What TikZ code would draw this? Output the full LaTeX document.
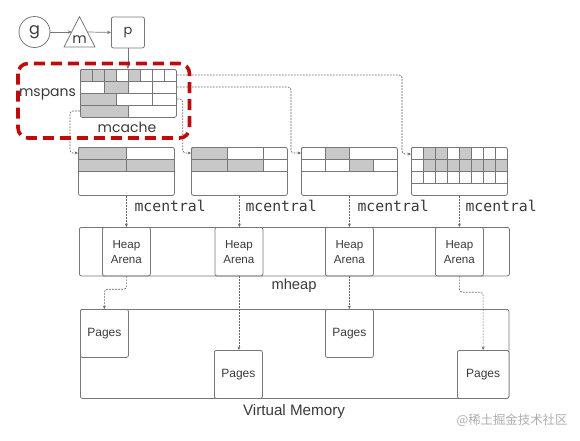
\documentclass[tikz,border=0pt]{standalone}
\usepackage{fontspec}
\setmainfont{Liberation Sans}
\newfontfamily\hand{Poppins}
\newfontfamily\mono{DejaVu Sans Mono}
\newfontfamily\cjk{Noto Sans CJK SC}
\usetikzlibrary{calc,arrows.meta}
\definecolor{bc}{HTML}{777777}
\definecolor{sh}{HTML}{C8C8C8}
\definecolor{tc}{HTML}{3A3A3A}
\definecolor{cn}{HTML}{666666}
\definecolor{rd}{RGB}{190,12,12}
\newcommand\mycell[5]{\filldraw[fill=#5,draw=bc,line width=0.7pt] (#1,#2) rectangle (#3,#4);}
\begin{document}
\begin{tikzpicture}[x=1pt,y=-1pt,
  box/.style={draw=bc, line width=0.8pt, rounded corners=2pt, inner sep=0pt, anchor=north west},
  conn/.style={draw=cn, line width=0.65pt, dash pattern=on 1.8pt off 1.2pt, rounded corners=3pt, -{Stealth[length=3.4pt,width=3pt]}},
  arr/.style={draw=bc, line width=0.7pt, -{Stealth[length=4pt,width=3.4pt]}},
  hw/.style={font=\hand\fontsize{14}{14}\selectfont, text=tc},
  mlab/.style={font=\mono\fontsize{14.8}{14.8}\selectfont, text=tc, anchor=west},
  sans/.style={font=\fontsize{12}{15}\selectfont, text=tc, align=center}
]
\useasboundingbox (0,0) rectangle (580,440);

% ---- top: g, m, p
\node[circle, draw=bc, line width=0.8pt, minimum size=31pt, inner sep=0pt, font=\hand\fontsize{16}{16}\selectfont, text=tc] (g) at (34.5,32) {g};
\draw[bc, line width=0.8pt, line join=round] (64,47) -- (79.5,16.5) -- (95,47) -- cycle;
\node[hw, font=\hand\fontsize{14}{14}\selectfont] (m) at (79.5,39.5) {m};
\coordinate (mw) at (71.8,32);
\coordinate (me) at (87.2,32);
\node[box, minimum width=33pt, minimum height=31pt, hw, font=\hand\fontsize{13}{13}\selectfont] (p) at (111,16.5) {p};
\draw[arr] (g.east) -- (mw);
\draw[arr] (me) -- (p.west);

% ---- mcache grid
\begin{scope}
\clip[rounded corners=2pt] (80,69) rectangle (176,117);
\foreach \i/\f in {0/sh,1/sh,2/sh,3/white,4/sh,5/white,6/white,7/white}
  {\mycell{80+12*\i}{69}{92+12*\i}{81}{\f}}
\foreach \i/\f in {0/white,1/sh,2/white,3/white}
  {\mycell{80+24*\i}{81}{104+24*\i}{93}{\f}}
\mycell{80}{93}{116}{105}{sh}
\mycell{116}{93}{152}{105}{white}
\mycell{152}{93}{176}{105}{white}
\mycell{80}{105}{128}{117}{sh}
\mycell{128}{105}{176}{117}{white}
\end{scope}
\node[box, minimum width=96pt, minimum height=48pt] (mc) at (80,69) {};
\draw[arr] (p.south) -- (p.south |- mc.north);
\node[hw] (msp) at (47.5,94.5) {mspans};
\node[hw] (mcl) at (127,127) {mcache};

% ---- mcentral boxes
\begin{scope}
\clip[rounded corners=2pt] (78,147) rectangle (174,195);
\mycell{78}{147}{126}{159}{sh}
\mycell{126}{147}{174}{159}{white}
\mycell{78}{159}{126}{171}{sh}
\mycell{126}{159}{174}{171}{sh}
\end{scope}
\node[box, minimum width=96pt, minimum height=48pt] (c1) at (78,147) {};

\begin{scope}
\clip[rounded corners=2pt] (191,147) rectangle (287,195);
\mycell{191}{147}{227}{159}{sh}
\mycell{227}{147}{263}{159}{white}
\mycell{263}{147}{287}{159}{white}
\mycell{191}{159}{227}{171}{sh}
\mycell{227}{159}{263}{171}{sh}
\mycell{263}{159}{287}{171}{white}
\end{scope}
\node[box, minimum width=96pt, minimum height=48pt] (c2) at (191,147) {};

\begin{scope}
\clip[rounded corners=2pt] (301,147) rectangle (397,195);
\mycell{301}{147}{325}{159}{white}
\mycell{325}{147}{349}{159}{sh}
\mycell{349}{147}{397}{159}{white}
\foreach \i/\f in {0/white,1/white,2/sh,3/white}
  {\mycell{301+24*\i}{159}{325+24*\i}{171}{\f}}
\end{scope}
\node[box, minimum width=96pt, minimum height=48pt] (c3) at (301,147) {};

\begin{scope}
\clip[rounded corners=2pt] (411,147) rectangle (507,195);
\foreach \i/\f in {0/white,1/sh,2/sh,3/white,4/sh,5/white,6/white,7/white}
  {\mycell{411+12*\i}{147}{423+12*\i}{159}{\f}}
\foreach \i/\f in {0/white,1/sh,2/sh,3/sh,4/sh,5/sh,6/sh,7/sh}
  {\mycell{411+12*\i}{159}{423+12*\i}{171}{\f}}
\foreach \i in {0,...,7}
  {\mycell{411+12*\i}{171}{423+12*\i}{183}{white}}
\end{scope}
\node[box, minimum width=96pt, minimum height=48pt] (c4) at (411,147) {};

% ---- connectors mcache -> mcentral
\draw[conn] ($(mc.north east)+(0,6)$) -| ($(c4.north west)+(-9,7)$) -- ($(c4.north west)+(0,7)$);
\draw[conn] ($(mc.north east)+(0,18)$) -| ($(c3.north west)+(-10,6)$) -- ($(c3.north west)+(0,6)$);
\draw[conn] ($(mc.north east)+(0,30)$) -- ++(6,0) |- ($(c2.north west)+(0,6)$);
\draw[conn] ($(mc.north west)+(0,42)$) -- ++(-10,0) |- ($(c1.north west)+(0,6)$);

% ---- red dashed mcache frame
\draw[rd, line width=3.6pt, dash pattern=on 11pt off 6pt, rounded corners=10pt] (18,63.5) rectangle (189.5,138);

% ---- mcentral labels
\node[mlab] (l1) at (131,206) {mcentral};
\node[mlab] (l2) at (242,206) {mcentral};
\node[mlab] (l3) at (354,206) {mcentral};
\node[mlab] (l4) at (462,206) {mcentral};

% ---- mheap
\node[box, minimum width=430pt, minimum height=48.5pt] (mh) at (79,227) {};
\node[box, minimum width=48pt, minimum height=48.5pt, sans, font=\fontsize{11.6}{15}\selectfont] (ha1) at (102,227) {Heap\\Arena};
\node[box, minimum width=48pt, minimum height=48.5pt, sans, font=\fontsize{11.6}{15}\selectfont] (ha2) at (214.5,227) {Heap\\Arena};
\node[box, minimum width=48pt, minimum height=48.5pt, sans, font=\fontsize{11.6}{15}\selectfont] (ha3) at (325,227) {Heap\\Arena};
\node[box, minimum width=48pt, minimum height=48.5pt, sans, font=\fontsize{11.6}{15}\selectfont] (ha4) at (435,227) {Heap\\Arena};
\node[sans, font=\fontsize{14.7}{15}\selectfont] (mhl) at (294,286) {mheap};

\draw[conn] (c1.south) -- (c1.south |- ha1.north);
\draw[conn] (c2.south) -- (c2.south |- ha2.north);
\draw[conn] (c3.south) -- (c3.south |- ha3.north);
\draw[conn] (c4.south) -- (c4.south |- ha4.north);

% ---- virtual memory
\node[box, minimum width=428.5pt, minimum height=89pt] (vm) at (80,309) {};
\node[box, minimum width=48pt, minimum height=48pt, sans, fill=white] (pg1) at (80,309) {Pages};
\node[box, minimum width=48pt, minimum height=48pt, sans, fill=white] (pg2) at (214,350) {Pages};
\node[box, minimum width=48pt, minimum height=48pt, sans, fill=white] (pg3) at (325,309) {Pages};
\node[box, minimum width=51.5pt, minimum height=48pt, sans, fill=white] (pg4) at (457,350) {Pages};
\node[sans, font=\fontsize{15.2}{15}\selectfont] (vml) at (294,412) {Virtual Memory};

\draw[conn] (ha1.south) -- ++(0,13) -| (pg1.north);
\draw[conn] (ha2.south) -- (ha2.south |- pg2.north);
\draw[conn] (ha3.south) -- (ha3.south |- pg3.north);
\draw[conn] (ha4.south) -- ++(0,16) -| (pg4.north);

% ---- watermark
\node[font=\cjk\fontsize{12.4}{13}\selectfont, text=black!32] (wm) at (512,420) {@稀土掘金技术社区};
\end{tikzpicture}
\end{document}
